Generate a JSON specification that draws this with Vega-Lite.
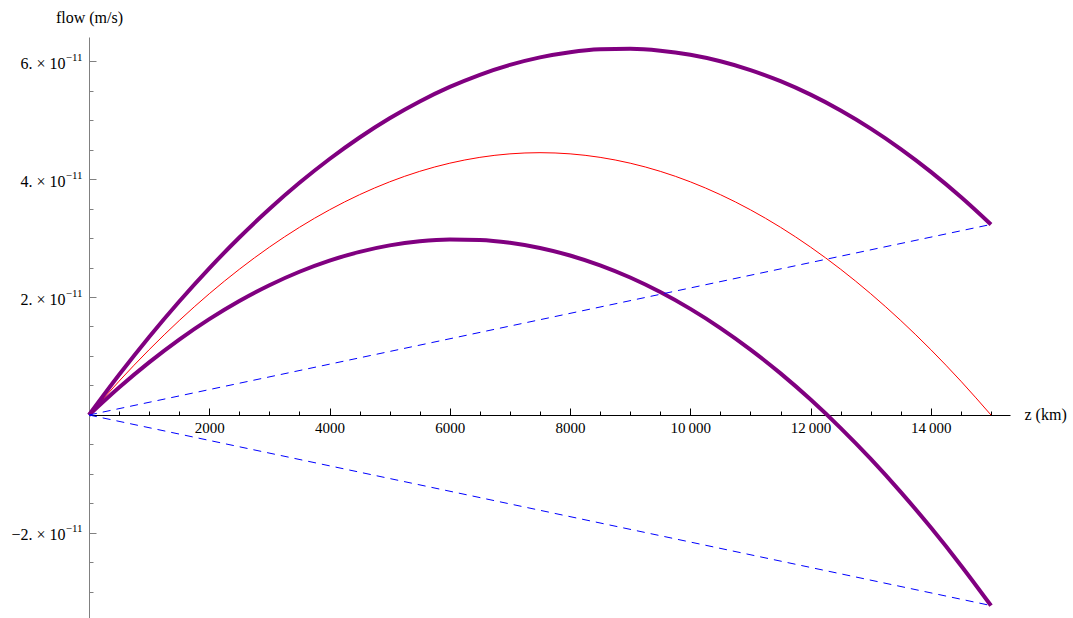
{
  "$schema": "https://vega.github.io/schema/vega-lite/v6.json",
  "width": 921,
  "height": 581,
  "autosize": {"type": "none"},
  "padding": {"left": 89, "top": 37, "right": 63, "bottom": 0},
  "background": "white",
  "config": {
    "view": {"stroke": null},
    "font": "Liberation Serif",
    "axis": {"grid": false, "labelFont": "Liberation Serif", "titleFont": "Liberation Serif", "labelColor": "black", "titleColor": "black", "titleFontWeight": "normal"}
  },
  "data": {"values": [
    {"z": 0, "flow": 0, "s": "up"},
    {"z": 500, "flow": 0.6807e-11, "s": "up"},
    {"z": 1000, "flow": 1.3219e-11, "s": "up"},
    {"z": 1500, "flow": 1.9236e-11, "s": "up"},
    {"z": 2000, "flow": 2.4858e-11, "s": "up"},
    {"z": 2500, "flow": 3.0083e-11, "s": "up"},
    {"z": 3000, "flow": 3.4914e-11, "s": "up"},
    {"z": 3500, "flow": 3.9350e-11, "s": "up"},
    {"z": 4000, "flow": 4.3390e-11, "s": "up"},
    {"z": 4500, "flow": 4.7036e-11, "s": "up"},
    {"z": 5000, "flow": 5.0287e-11, "s": "up"},
    {"z": 5500, "flow": 5.3141e-11, "s": "up"},
    {"z": 6000, "flow": 5.5602e-11, "s": "up"},
    {"z": 6500, "flow": 5.7667e-11, "s": "up"},
    {"z": 7000, "flow": 5.9336e-11, "s": "up"},
    {"z": 7500, "flow": 6.0610e-11, "s": "up"},
    {"z": 8000, "flow": 6.1490e-11, "s": "up"},
    {"z": 8500, "flow": 6.1973e-11, "s": "up"},
    {"z": 9000, "flow": 6.2062e-11, "s": "up"},
    {"z": 9500, "flow": 6.1755e-11, "s": "up"},
    {"z": 10000, "flow": 6.1053e-11, "s": "up"},
    {"z": 10500, "flow": 5.9956e-11, "s": "up"},
    {"z": 11000, "flow": 5.8464e-11, "s": "up"},
    {"z": 11500, "flow": 5.6576e-11, "s": "up"},
    {"z": 12000, "flow": 5.4294e-11, "s": "up"},
    {"z": 12500, "flow": 5.1617e-11, "s": "up"},
    {"z": 13000, "flow": 4.8544e-11, "s": "up"},
    {"z": 13500, "flow": 4.5076e-11, "s": "up"},
    {"z": 14000, "flow": 4.1213e-11, "s": "up"},
    {"z": 14500, "flow": 3.6953e-11, "s": "up"},
    {"z": 15000, "flow": 3.23e-11, "s": "up"},
    {"z": 0, "flow": 0, "s": "red"},
    {"z": 500, "flow": 0.5730e-11, "s": "red"},
    {"z": 1000, "flow": 1.1066e-11, "s": "red"},
    {"z": 1500, "flow": 1.6006e-11, "s": "red"},
    {"z": 2000, "flow": 2.0551e-11, "s": "red"},
    {"z": 2500, "flow": 2.4700e-11, "s": "red"},
    {"z": 3000, "flow": 2.8454e-11, "s": "red"},
    {"z": 3500, "flow": 3.1813e-11, "s": "red"},
    {"z": 4000, "flow": 3.4777e-11, "s": "red"},
    {"z": 4500, "flow": 3.7346e-11, "s": "red"},
    {"z": 5000, "flow": 3.9520e-11, "s": "red"},
    {"z": 5500, "flow": 4.1298e-11, "s": "red"},
    {"z": 6000, "flow": 4.2682e-11, "s": "red"},
    {"z": 6500, "flow": 4.3670e-11, "s": "red"},
    {"z": 7000, "flow": 4.4263e-11, "s": "red"},
    {"z": 7500, "flow": 4.4460e-11, "s": "red"},
    {"z": 8000, "flow": 4.4263e-11, "s": "red"},
    {"z": 8500, "flow": 4.3670e-11, "s": "red"},
    {"z": 9000, "flow": 4.2682e-11, "s": "red"},
    {"z": 9500, "flow": 4.1298e-11, "s": "red"},
    {"z": 10000, "flow": 3.9520e-11, "s": "red"},
    {"z": 10500, "flow": 3.7346e-11, "s": "red"},
    {"z": 11000, "flow": 3.4777e-11, "s": "red"},
    {"z": 11500, "flow": 3.1813e-11, "s": "red"},
    {"z": 12000, "flow": 2.8454e-11, "s": "red"},
    {"z": 12500, "flow": 2.4700e-11, "s": "red"},
    {"z": 13000, "flow": 2.0551e-11, "s": "red"},
    {"z": 13500, "flow": 1.6006e-11, "s": "red"},
    {"z": 14000, "flow": 1.1066e-11, "s": "red"},
    {"z": 14500, "flow": 0.5730e-11, "s": "red"},
    {"z": 15000, "flow": 0, "s": "red"},
    {"z": 0, "flow": 0, "s": "down"},
    {"z": 500, "flow": 0.4653e-11, "s": "down"},
    {"z": 1000, "flow": 0.8913e-11, "s": "down"},
    {"z": 1500, "flow": 1.2776e-11, "s": "down"},
    {"z": 2000, "flow": 1.6244e-11, "s": "down"},
    {"z": 2500, "flow": 1.9317e-11, "s": "down"},
    {"z": 3000, "flow": 2.1994e-11, "s": "down"},
    {"z": 3500, "flow": 2.4276e-11, "s": "down"},
    {"z": 4000, "flow": 2.6164e-11, "s": "down"},
    {"z": 4500, "flow": 2.7656e-11, "s": "down"},
    {"z": 5000, "flow": 2.8753e-11, "s": "down"},
    {"z": 5500, "flow": 2.9455e-11, "s": "down"},
    {"z": 6000, "flow": 2.9762e-11, "s": "down"},
    {"z": 6500, "flow": 2.9673e-11, "s": "down"},
    {"z": 7000, "flow": 2.9190e-11, "s": "down"},
    {"z": 7500, "flow": 2.8310e-11, "s": "down"},
    {"z": 8000, "flow": 2.7036e-11, "s": "down"},
    {"z": 8500, "flow": 2.5367e-11, "s": "down"},
    {"z": 9000, "flow": 2.3302e-11, "s": "down"},
    {"z": 9500, "flow": 2.0841e-11, "s": "down"},
    {"z": 10000, "flow": 1.7987e-11, "s": "down"},
    {"z": 10500, "flow": 1.4736e-11, "s": "down"},
    {"z": 11000, "flow": 1.1090e-11, "s": "down"},
    {"z": 11500, "flow": 0.7050e-11, "s": "down"},
    {"z": 12000, "flow": 0.2614e-11, "s": "down"},
    {"z": 12500, "flow": -0.2217e-11, "s": "down"},
    {"z": 13000, "flow": -0.7442e-11, "s": "down"},
    {"z": 13500, "flow": -1.3064e-11, "s": "down"},
    {"z": 14000, "flow": -1.9081e-11, "s": "down"},
    {"z": 14500, "flow": -2.5493e-11, "s": "down"},
    {"z": 15000, "flow": -3.23e-11, "s": "down"},
    {"z": 0, "flow": 0, "s": "dashUp"},
    {"z": 15000, "flow": 3.23e-11, "s": "dashUp"},
    {"z": 0, "flow": 0, "s": "dashDown"},
    {"z": 15000, "flow": -3.23e-11, "s": "dashDown"}
  ]},
  "resolve": {"axis": {"x": "independent", "y": "independent"}},
  "layer": [
    {
      "mark": {"type": "line", "strokeOpacity": 0},
      "encoding": {
        "x": {"field": "z", "type": "quantitative", "scale": {"domain": [0, 15316], "nice": false, "zero": false},
          "axis": {"orient": "bottom", "offset": -203, "values": [500,1000,1500,2000,2500,3000,3500,4000,4500,5000,5500,6000,6500,7000,7500,8000,8500,9000,9500,10000,10500,11000,11500,12000,12500,13000,13500,14000,14500,15000],
            "labels": false, "domain": false, "title": null, "tickSize": -4, "tickColor": "black", "tickWidth": 1}},
        "y": {"field": "flow", "type": "quantitative", "scale": {"domain": [-3.4407e-11, 6.4068e-11], "nice": false, "zero": false},
          "axis": {"orient": "left", "offset": 0, "values": [-3e-11,-2.5e-11,-2e-11,-1.5e-11,-1e-11,-0.5e-11,0.5e-11,1e-11,1.5e-11,2e-11,2.5e-11,3e-11,3.5e-11,4e-11,4.5e-11,5e-11,5.5e-11,6e-11],
            "labels": false, "domain": false, "title": null, "tickSize": -4, "tickColor": "#808080", "tickWidth": 1}},
        "detail": {"field": "s"}
      }
    },
    {
      "mark": {"type": "line", "strokeOpacity": 0},
      "encoding": {
        "x": {"field": "z", "type": "quantitative", "scale": {"domain": [0, 15316], "nice": false, "zero": false}, "axis": null},
        "y": {"field": "flow", "type": "quantitative", "scale": {"domain": [-3.4407e-11, 6.4068e-11], "nice": false, "zero": false},
          "axis": {"orient": "left", "offset": 0, "values": [-2e-11, 2e-11, 4e-11, 6e-11],
            "labelExpr": "'\u221211'", "labelFontSize": 11, "labelPadding": 7, "labelOffset": -4,
            "ticks": false, "domain": false, "title": null}},
        "detail": {"field": "s"}
      }
    },
    {
      "transform": [{"filter": "datum.s === 'red'"}],
      "mark": {"type": "line", "interpolate": "monotone", "color": "#ff0000", "strokeWidth": 1},
      "encoding": {
        "x": {"field": "z", "type": "quantitative", "scale": {"domain": [0, 15316], "nice": false, "zero": false},
          "axis": {"orient": "bottom", "offset": -203, "values": [2000,4000,6000,8000,10000,12000,14000],
            "labelExpr": "datum.value >= 10000 ? format(floor(datum.value/1000),'d') + '\u2009000' : format(datum.value,'d')",
            "labelFontSize": 15, "labelPadding": 12, "domainColor": "black", "domainWidth": 1, "tickColor": "black", "tickSize": -7, "tickWidth": 1,
            "title": "z (km)", "titleFontSize": 16, "titleAlign": "left", "titleBaseline": "middle", "titleX": 935, "titleY": -1, "titleAngle": 0}},
        "y": {"field": "flow", "type": "quantitative", "scale": {"domain": [-3.4407e-11, 6.4068e-11], "nice": false, "zero": false},
          "axis": {"orient": "left", "offset": 0, "values": [-2e-11, 2e-11, 4e-11, 6e-11],
            "labelExpr": "(datum.value < 0 ? '\u2212' : '') + format(abs(round(datum.value*1e11)),'d') + '. \u00d7 10'",
            "labelFontSize": 16, "labelPadding": 31, "labelOffset": 2, "domainColor": "#808080", "domainWidth": 1, "tickColor": "#808080", "tickSize": -7, "tickWidth": 1,
            "title": "flow (m/s)", "titleFontSize": 16, "titleAlign": "center", "titleBaseline": "middle", "titleX": 0, "titleY": -20, "titleAngle": 0}}
      }
    },
    {
      "transform": [{"filter": "datum.s === 'up' || datum.s === 'down'"}],
      "mark": {"type": "line", "interpolate": "monotone", "color": "#800080", "strokeWidth": 4},
      "encoding": {
        "x": {"field": "z", "type": "quantitative", "axis": null},
        "y": {"field": "flow", "type": "quantitative", "axis": null},
        "detail": {"field": "s"}
      }
    },
    {
      "transform": [{"filter": "datum.s === 'dashUp' || datum.s === 'dashDown'"}],
      "mark": {"type": "line", "color": "#0000ff", "strokeWidth": 1, "strokeDash": [8, 6]},
      "encoding": {
        "x": {"field": "z", "type": "quantitative", "axis": null},
        "y": {"field": "flow", "type": "quantitative", "axis": null},
        "detail": {"field": "s"}
      }
    }
  ]
}
